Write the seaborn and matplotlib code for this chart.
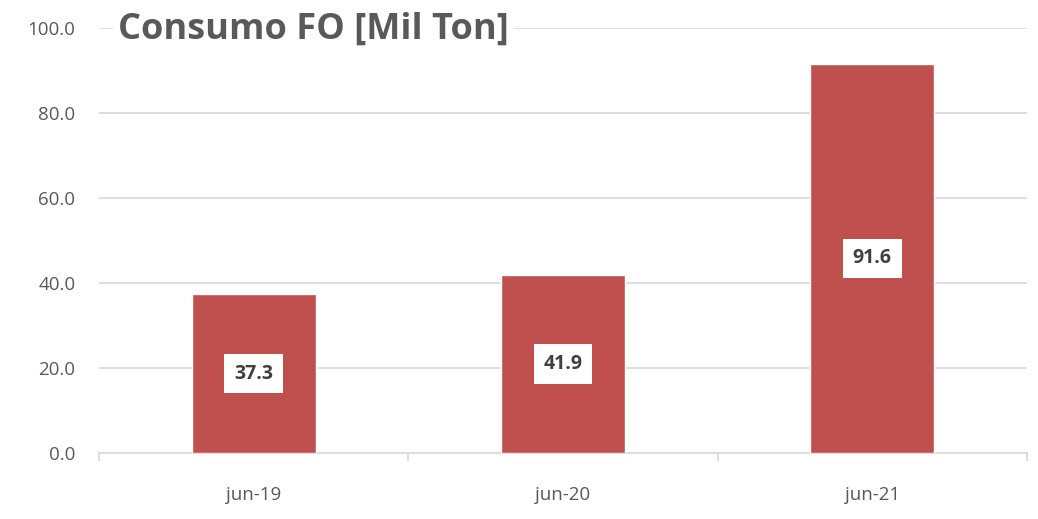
import matplotlib
matplotlib.use("Agg")
import matplotlib.pyplot as plt
import seaborn as sns
import pandas as pd
import numpy as np

categories = ["jun-19", "jun-20", "jun-21"]
values = [37.3, 41.9, 91.6]
title = "Consumo FO [Mil Ton]"

df = pd.DataFrame({"periodo": categories, "valor": values})

sns.set_theme(style="white")
plt.rcParams['font.family'] = ['Open Sans', 'DejaVu Sans']

fig = plt.figure(figsize=(10.38, 5.19), dpi=100)
ax = fig.add_axes([99/1038, 1 - 453/519, (1027-99)/1038, (453-28)/519])

sns.barplot(data=df, x="periodo", y="valor", color="#C0504D", saturation=1,
            width=0.40, ax=ax, zorder=3)

ax.set_ylim(0, 100)
ax.set_xlim(-0.5, 2.5)
ax.set_yticks(np.arange(0, 101, 20))
ax.set_yticklabels([f"{v:.1f}" for v in np.arange(0, 101, 20)], color="#595959", fontsize=13.5)
ax.yaxis.grid(True, color="#D9D9D9", linewidth=1.2, zorder=0)
ax.set_axisbelow(True)
ax.tick_params(axis="y", length=0, pad=17)
ax.set_xlabel("")
ax.set_ylabel("")
for s in ["left", "right", "top"]:
    ax.spines[s].set_visible(False)
ax.spines["bottom"].set_color("#D9D9D9")
ax.spines["bottom"].set_linewidth(1.2)
ax.set_xticks([0, 1, 2])
ax.set_xticklabels(categories, color="#595959", fontsize=13.5)
ax.tick_params(axis="x", length=0, pad=24)
ax.set_xticks([-0.5, 0.5, 1.5, 2.5], minor=True)
ax.tick_params(axis="x", which="minor", bottom=True, length=6, color="#D9D9D9", width=1.2)

for i, v in enumerate(values):
    ax.text(i, v / 2, f"{v:.1f}", ha="center", va="center", fontsize=14,
            fontweight="bold", color="#404040", zorder=5,
            bbox=dict(boxstyle="square,pad=0.5", facecolor="white", edgecolor="none"))

ax.text(118/1038, 1 - 30/519, title, transform=fig.transFigure, ha="left", va="center",
        fontsize=26, fontweight="bold", color="#595959", zorder=6,
        bbox=dict(boxstyle="square,pad=0.15", facecolor="white", edgecolor="none"))

fig.savefig("out.png", dpi=100)
